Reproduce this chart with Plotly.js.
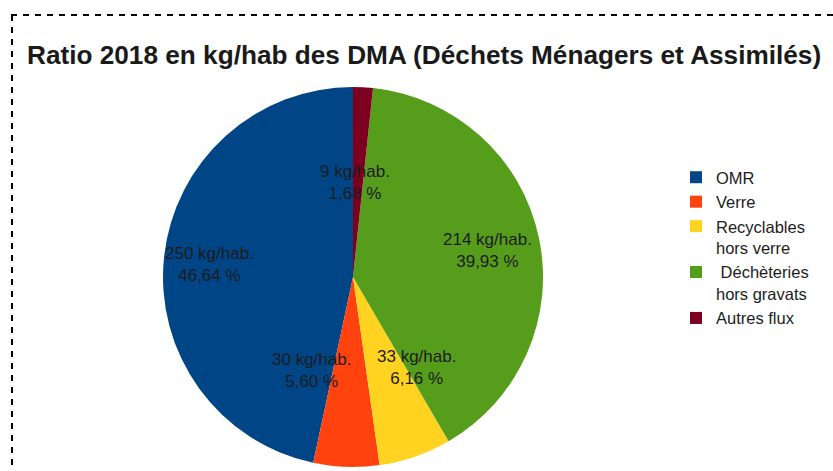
<!DOCTYPE html>
<html>
<head>
<meta charset="utf-8">
<script src="https://cdn.plot.ly/plotly-3.0.1.min.js"></script>
<style>html,body{margin:0;padding:0;background:#fff;}#chart{width:833px;height:471px;}</style>
</head>
<body>
<div id="chart"></div>
<script>
var categories = ["OMR", "Verre", "Recyclables<br>hors verre", " Déchèteries<br>hors gravats", "Autres flux"];
var values = [250, 30, 33, 214, 9];
var colors = ["#004586", "#ff420e", "#ffd320", "#579d1c", "#7e0021"];
var unit = " kg/hab.";

// label placement (style): radius fraction and angular nudge (degrees) per slice
var labelRadius = [0.76, 0.54, 0.58, 0.72, 0.50];
var labelNudge = [1, -22, 16, -1, 2];

var W = 833, H = 471;
var pieLeft = 163, pieRight = 543, pieTop = 87, pieBottom = 467;

var total = values.reduce(function(a, b) { return a + b; }, 0);
var labelsText = values.map(function(v) {
  return v + unit + "<br>" + (v / total * 100).toFixed(2).replace(".", ",") + " %";
});

var cx = (pieLeft + pieRight) / 2, cy = (pieTop + pieBottom) / 2, R = (pieRight - pieLeft) / 2;
var annotations = [];
var cum = 0;
values.forEach(function(v, i) {
  var mid = 90 + (cum + v / 2) / total * 360 + labelNudge[i];
  cum += v;
  var a = mid * Math.PI / 180;
  var px = cx + labelRadius[i] * R * Math.cos(a);
  var py = cy - labelRadius[i] * R * Math.sin(a);
  annotations.push({
    text: labelsText[i], showarrow: false,
    xref: "paper", yref: "paper", x: px / W, y: 1 - py / H,
    xanchor: "center", yanchor: "middle", align: "center",
    font: { family: "Liberation Sans, Arial, sans-serif", size: 17, color: "#1c1c1c" }
  });
});

var trace = {
  type: "pie",
  labels: categories,
  values: values,
  text: labelsText,
  textinfo: "none",
  hoverinfo: "label+text",
  sort: false,
  direction: "counterclockwise",
  rotation: -values[0] / total * 360,
  marker: { colors: colors, line: { width: 0 } },
  domain: { x: [pieLeft / W, pieRight / W], y: [1 - pieBottom / H, 1 - pieTop / H] }
};

var layout = {
  width: W,
  height: H,
  margin: { l: 0, r: 0, t: 0, b: 0 },
  paper_bgcolor: "#ffffff",
  showlegend: true,
  title: {
    text: "<b>Ratio 2018 en kg/hab des DMA (Déchets Ménagers et Assimilés)</b>",
    font: { family: "Liberation Sans, Arial, sans-serif", size: 26.2, color: "#1a1a1a" },
    x: 27 / W, xanchor: "left", xref: "paper",
    y: 1 - 55 / H, yanchor: "middle"
  },
  legend: {
    x: 676 / W, xanchor: "left",
    y: 1 - 160 / H, yanchor: "top",
    valign: "top",
    font: { family: "Liberation Sans, Arial, sans-serif", size: 16.5, color: "#1c1c1c" },
    tracegroupgap: 0,
    itemwidth: 30
  },
  annotations: annotations,
  shapes: [
    { type: "line", xref: "paper", yref: "paper", x0: 11 / W, x1: 1, y0: 1 - 15 / H, y1: 1 - 15 / H,
      line: { color: "#000", width: 2, dash: "6px,6px" } },
    { type: "line", xref: "paper", yref: "paper", x0: 12 / W, x1: 12 / W, y0: 1 - 15 / H, y1: 0,
      line: { color: "#000", width: 2, dash: "6px,6px" } }
  ]
};

Plotly.newPlot("chart", [trace], layout, { displayModeBar: false, staticPlot: true });
</script>
</body>
</html>
